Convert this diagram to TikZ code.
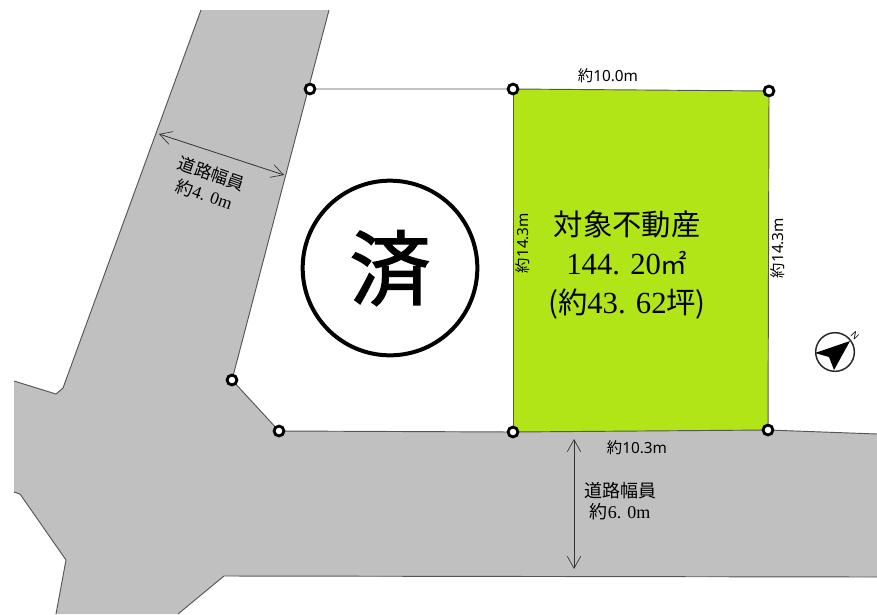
\documentclass[tikz,border=0pt]{standalone}
\usepackage{fontspec}
\setmainfont{Liberation Serif}
\newfontfamily\cjk{Noto Sans CJK JP}
\newfontfamily\cjkstamp[FakeBold=1.6]{Noto Sans CJK JP}
\newfontfamily\lat{Noto Sans}
\usetikzlibrary{arrows.meta}
\definecolor{road}{RGB}{192,192,192}
\definecolor{lot}{RGB}{178,229,24}
\definecolor{edge}{RGB}{85,85,85}
\tikzset{
  x=0.75pt,y=-0.75pt,
  pin/.style={circle,draw=black,fill=white,line width=2.1pt,inner sep=0pt,minimum size=7.4pt},
  border/.style={draw=edge,line width=0.7pt},
  dim/.style={draw=black!80,line width=0.6pt,{Straight Barb[length=9pt,width=10pt,line width=0.5pt]}-{Straight Barb[length=9pt,width=10pt,line width=0.5pt]}},
  lab/.style={inner sep=0pt,font=\cjk\fontsize{12.4}{14}\selectfont,align=center},
  big/.style={inner sep=0pt,font=\cjk\fontsize{22}{24}\selectfont,align=center}
}
\newcommand{\mixlab}[1]{{\cjk\fontsize{11.5}{14}\selectfont 約}{\lat\fontsize{11.5}{14}\selectfont #1}}
\newcommand{\serlab}[1]{{\cjk 約}{\rmfamily #1}}
\begin{document}
\begin{tikzpicture}
\useasboundingbox (0,0) rectangle (877,614);
% roads
\fill[road] (201,10) -- (329,10) -- (232,380) -- (279,431) -- (513,432) -- (768,430) -- (877,434) -- (877,577) -- (224,576) -- (178,614) -- (56,614) -- (66,560) -- (20,494) -- (14,492) -- (14,381) -- (56,394) -- (63,388) -- cycle;
\draw[border] (201,10) -- (63,388) -- (56,394) -- (14,381);
\draw[border] (14,492) -- (20,494) -- (66,560) -- (56,614);
\draw[border] (178,614) -- (224,576) -- (877,577);
\draw[border] (329,10) -- (232,380);
% named corners
\coordinate (a) at (310,89);
\coordinate (b) at (513,89);
\coordinate (c) at (769,91);
\coordinate (d) at (768,430);
\coordinate (e) at (513,432);
\coordinate (f) at (279,431);
\coordinate (g) at (232,380);
\fill[lot] (b) -- (c) -- (d) -- (e) -- cycle;
\draw[border] (a) -- (b) -- (c) -- (d) -- (e) -- (f) -- (g);
\draw[border] (b) -- (e);
\draw[border] (d) -- (877,434);
\node[pin] (pa) at (a) {};
\node[pin] (pb) at (b) {};
\node[pin] (pc) at (c) {};
\node[pin] (pd) at (d) {};
\node[pin] (pe) at (e) {};
\node[pin] (pf) at (f) {};
\node[pin] (pg) at (g) {};
% stamp
\node[circle,draw=black,line width=3pt,minimum size=131pt,inner sep=0pt,font=\cjkstamp\fontsize{61}{64}\selectfont] (stamp) at (390,268) {済};
% labels
\node[lab] (top) at (608,76) {\mixlab{10.0m}};
\node[lab] (bot) at (637,448) {\mixlab{10.3m}};
\node[lab,rotate=90] (left) at (523,243) {\mixlab{14.3m}};
\node[lab,rotate=90] (right) at (778,248) {\mixlab{14.3m}};
\node[big] (t1) at (627,224) {対象不動産};
\node[big] (t2) at (627,263) {{\rmfamily\fontsize{23}{25}\selectfont 144. 20}{\cjk\fontsize{20}{22}\selectfont ㎡}};
\node[big] (t3) at (627,304) {{\cjk (約}{\rmfamily\fontsize{23}{25}\selectfont 43. 62}{\cjk 坪)}};
\node[lab,rotate=-19,font=\cjk\fontsize{13}{16.5}\selectfont] (w1) at (208,184) {道路幅員\\ \serlab{4. 0m}};
\node[lab,font=\cjk\fontsize{13.5}{16}\selectfont] (w2) at (620,501) {道路幅員\\ \serlab{6. 0m}};
% dimension arrows
\coordinate (w1a) at (159,134);
\coordinate (w1b) at (284,175);
\draw[dim] (w1a) -- (w1b);
\coordinate (w2a) at (574,439);
\coordinate (w2b) at (574,569);
\draw[dim] (w2a) -- (w2b);
% north mark
\node[circle,draw=black!85,line width=1.1pt,minimum size=29pt,inner sep=0pt] (north) at (835,352) {};
\fill[black] (815,353) -- (850,341) -- (834,370) -- (829,357) -- cycle;
\node[inner sep=0pt,rotate=-45,font=\lat\bfseries\fontsize{7}{8}\selectfont] (nlab) at (855,336) {N};
\end{tikzpicture}
\end{document}
